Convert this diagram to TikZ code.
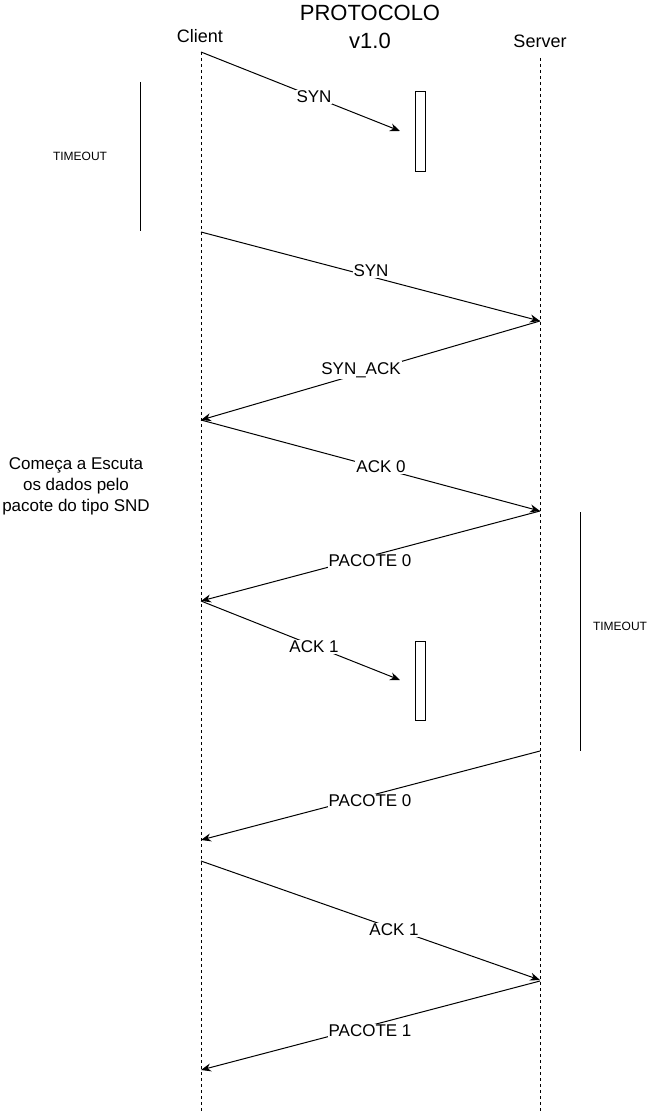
\documentclass[tikz,border=0pt]{standalone}
\usepackage{fontspec}
\setmainfont{Liberation Sans}
\usetikzlibrary{arrows.meta}
\begin{document}
\begin{tikzpicture}[x=1pt,y=-1pt,
  lbl/.style={font=\fontsize{17}{20}\selectfont, fill=white, inner sep=1pt},
  head/.style={font=\fontsize{18}{21}\selectfont, inner sep=0pt},
  small/.style={font=\fontsize{12}{14}\selectfont, inner sep=0pt},
  msg/.style={-{Stealth[length=10pt,width=8pt]}, line width=1pt},
  life/.style={dash pattern=on 3pt off 3pt, line width=1pt},
  bar/.style={line width=1pt},
  act/.style={draw, line width=1pt, minimum width=10pt, minimum height=79pt, inner sep=0pt}]
\useasboundingbox (0,0) rectangle (650,1113);
% title and participants
\node[align=center, font=\fontsize{22}{28}\selectfont, inner sep=0pt] (title) at (370,27) {PROTOCOLO\\v1.0};
\node[head] (client) at (200,36) {Client};
\node[head] (server) at (540,41) {Server};
% lifelines
\coordinate (cTop) at (201,52);
\coordinate (cBot) at (201,1113);
\coordinate (sTop) at (540,58);
\coordinate (sBot) at (540,1113);
\draw[life] (cTop) -- (cBot);
\draw[life] (sTop) -- (sBot);
% endpoints
\coordinate (c1) at (201,52);
\coordinate (l1) at (400,131);
\coordinate (c2) at (201,232);
\coordinate (s2) at (540,321);
\coordinate (c3) at (201,420);
\coordinate (s4) at (540,511);
\coordinate (c5) at (201,601);
\coordinate (l6) at (400,680);
\coordinate (s7) at (540,751);
\coordinate (c7) at (201,840);
\coordinate (c8) at (201,861);
\coordinate (s8) at (540,980);
\coordinate (s9) at (540,981);
\coordinate (c9) at (201,1070);
% activation boxes
\node[act] (box1) at (420,131.5) {};
\node[act] (box2) at (420,680.5) {};
% timeouts
\coordinate (tA) at (140,82);
\coordinate (tB) at (140,231);
\draw[bar] (tA) -- (tB);
\node[small] (to1) at (80,156) {TIMEOUT};
\coordinate (tC) at (580,512);
\coordinate (tD) at (580,751);
\draw[bar] (tC) -- (tD);
\node[small] (to2) at (620,626) {TIMEOUT};
% messages
\draw[msg] (c1) -- (l1);
\node[lbl] (m1) at (314,97) {SYN};
\draw[msg] (c2) -- (s2);
\node[lbl] (m2) at (371,271) {SYN};
\draw[msg] (s2) -- (c3);
\node[lbl] (m3) at (361,370) {SYN\_ACK};
\draw[msg] (c3) -- (s4);
\node[lbl] (m4) at (381,467) {ACK 0};
\draw[msg] (s4) -- (c5);
\node[lbl] (m5) at (370,561) {PACOTE 0};
\draw[msg] (c5) -- (l6);
\node[lbl] (m6) at (314,647) {ACK 1};
\draw[msg] (s7) -- (c7);
\node[lbl] (m7) at (370,801) {PACOTE 0};
\draw[msg] (c8) -- (s8);
\node[lbl] (m8) at (394,930) {ACK 1};
\draw[msg] (s9) -- (c9);
\node[lbl] (m9) at (370,1031) {PACOTE 1};
% note
\node[align=center, font=\fontsize{17}{21}\selectfont, inner sep=0pt] (note) at (76,486) {Começa a Escuta\\os dados pelo\\pacote do tipo SND};
\end{tikzpicture}
\end{document}
